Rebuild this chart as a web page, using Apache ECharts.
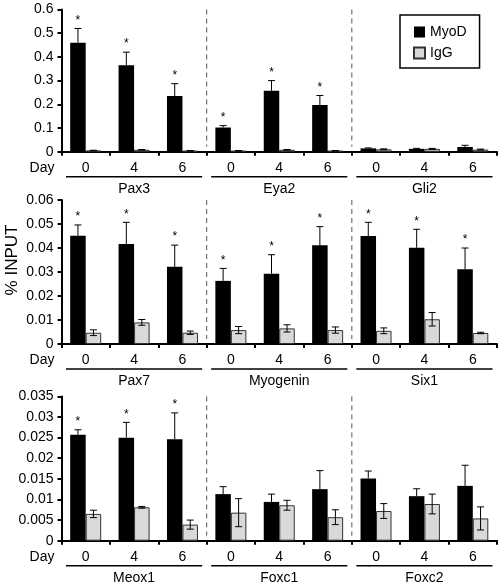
<!DOCTYPE html>
<html>
<head>
<meta charset="utf-8">
<script src="https://cdn.jsdelivr.net/npm/echarts@6/dist/echarts.min.js"></script>
<style>
html,body{margin:0;padding:0;background:#fff;}
#c{width:498px;height:586px;}
</style>
</head>
<body>
<div id="c"></div>
<script>
const days = ['0', '4', '6'];
const genesTop = ['Pax3', 'Eya2', 'Gli2'];
const genesMid = ['Pax7', 'Myogenin', 'Six1'];
const genesBot = ['Meox1', 'Foxc1', 'Foxc2'];

const myodTop = [0.46, 0.365, 0.235, 0.102, 0.257, 0.197, 0.014, 0.012, 0.02];
const myodTopErr = [0.06, 0.055, 0.052, 0.008, 0.043, 0.04, 0.002, 0.002, 0.007];
const iggTop = [0.005, 0.008, 0.004, 0.004, 0.008, 0.004, 0.01, 0.012, 0.009];
const iggTopErr = [0.001, 0.001, 0.001, 0.001, 0.001, 0.001, 0.002, 0.002, 0.002];
const sigTop = [1, 1, 1, 1, 1, 1, 0, 0, 0];

const myodMid = [0.0451, 0.0417, 0.0322, 0.0263, 0.0293, 0.0411, 0.045, 0.0401, 0.0311];
const myodMidErr = [0.0045, 0.009, 0.009, 0.0052, 0.0079, 0.0078, 0.0057, 0.0077, 0.0089];
const iggMid = [0.0047, 0.009, 0.0047, 0.0058, 0.0065, 0.0058, 0.0055, 0.0103, 0.0046];
const iggMidErr = [0.0012, 0.0012, 0.0007, 0.0015, 0.0015, 0.0013, 0.0012, 0.0028, 0.0003];
const sigMid = [1, 1, 1, 1, 1, 1, 1, 1, 1];

const myodBot = [0.0257, 0.025, 0.0246, 0.0113, 0.0094, 0.0125, 0.0151, 0.0108, 0.0133];
const myodBotErr = [0.0012, 0.0037, 0.0064, 0.0018, 0.0019, 0.0045, 0.0018, 0.0018, 0.005];
const iggBot = [0.0065, 0.0081, 0.0039, 0.0068, 0.0086, 0.0057, 0.0072, 0.0089, 0.0054];
const iggBotErr = [0.0009, 0.0002, 0.0011, 0.0034, 0.0012, 0.0018, 0.0018, 0.0024, 0.0028];
const sigBot = [1, 1, 1, 0, 0, 0, 0, 0, 0];

const yMax = [0.6, 0.06, 0.035];
const yInterval = [0.1, 0.01, 0.005];

const FONT = '"Liberation Sans", Arial, Helvetica, sans-serif';
const BAR_W = 15.5;

const panels = [
  {genes: genesTop, myod: myodTop, myodErr: myodTopErr, igg: iggTop, iggErr: iggTopErr, sig: sigTop},
  {genes: genesMid, myod: myodMid, myodErr: myodMidErr, igg: iggMid, iggErr: iggMidErr, sig: sigMid},
  {genes: genesBot, myod: myodBot, myodErr: myodBotErr, igg: iggBot, iggErr: iggBotErr, sig: sigBot}
];

const grids = [
  {left: 61.5, width: 435.5, top: 9.5, height: 142.2},
  {left: 61.5, width: 435.5, top: 200, height: 144},
  {left: 61.5, width: 435.5, top: 396.4, height: 144.3}
];

function cats(genes) {
  const out = [];
  genes.forEach(g => days.forEach(d => out.push(g + '|' + d)));
  return out;
}

const xAxes = [], yAxes = [], series = [];
panels.forEach((p, k) => {
  xAxes.push({
    type: 'category', gridIndex: k, data: cats(p.genes),
    axisLine: {lineStyle: {color: '#000', width: 2}},
    axisTick: {show: true, length: 4, lineStyle: {color: '#000', width: 2}},
    axisLabel: {color: '#000', fontSize: 14, fontFamily: FONT, margin: 9,
      formatter: v => v.split('|')[1]}
  });
  yAxes.push({
    type: 'value', gridIndex: k, min: 0, max: yMax[k], interval: yInterval[k],
    splitLine: {show: false},
    axisLine: {show: true, lineStyle: {color: '#000', width: 2}},
    axisTick: {show: true, length: 4, lineStyle: {color: '#000', width: 2}},
    axisLabel: {color: '#000', fontSize: 14, fontFamily: FONT, margin: 8}
  });
  series.push({
    name: 'MyoD', type: 'bar', xAxisIndex: k, yAxisIndex: k,
    barWidth: BAR_W, barGap: '0%', data: p.myod,
    itemStyle: {color: '#000', borderColor: '#000', borderWidth: 0}
  });
  series.push({
    name: 'IgG', type: 'bar', xAxisIndex: k, yAxisIndex: k,
    barWidth: BAR_W, barGap: '0%', data: p.igg,
    itemStyle: {color: '#d9d9d9', borderColor: '#333', borderWidth: 1}
  });
  // error bars
  const errData = [];
  p.myod.forEach((v, i) => errData.push([i, v, p.myodErr[i], 0]));
  p.igg.forEach((v, i) => errData.push([i, v, p.iggErr[i], 1]));
  series.push({
    type: 'custom', xAxisIndex: k, yAxisIndex: k, data: errData, z: 5,
    renderItem: (params, api) => {
      const i = api.value(0), v = api.value(1), e = api.value(2), s = api.value(3);
      const off = s === 0 ? -BAR_W / 2 : BAR_W / 2;
      const x = api.coord([i, v])[0] + off;
      const yTop = api.coord([i, v + e])[1];
      const yBot = s === 0 ? api.coord([i, v])[1] : api.coord([i, v - e])[1];
      const cap = 3.5;
      const st = {stroke: '#000', lineWidth: 1};
      const children = [
        {type: 'line', shape: {x1: x, y1: yTop, x2: x, y2: yBot}, style: st},
        {type: 'line', shape: {x1: x - cap, y1: yTop, x2: x + cap, y2: yTop}, style: st}
      ];
      if (s === 1) children.push({type: 'line', shape: {x1: x - cap, y1: yBot, x2: x + cap, y2: yBot}, style: st});
      return {type: 'group', children};
    }
  });
  // significance stars
  const starData = [];
  p.myod.forEach((v, i) => { if (p.sig[i]) starData.push([i, v + p.myodErr[i]]); });
  series.push({
    type: 'custom', xAxisIndex: k, yAxisIndex: k, data: starData, z: 5,
    renderItem: (params, api) => {
      const pt = api.coord([api.value(0), api.value(1)]);
      return {type: 'text', x: pt[0] - BAR_W / 2, y: pt[1] - 8,
        style: {text: '*', fontSize: 12, fontFamily: FONT, fill: '#000', align: 'center', verticalAlign: 'middle'}};
    }
  });
  // gene underlines + names
  series.push({
    type: 'custom', xAxisIndex: k, yAxisIndex: k, z: 5,
    data: p.genes.map((g, gi) => [gi * 3 + 1, 0, gi]),
    renderItem: (params, api) => {
      const c = api.coord([api.value(0), 0]);
      const band = api.size([1, 0])[0];
      const half = band * 1.5 - 4;
      const g = p.genes[api.value(2)];
      return {type: 'group', children: [
        {type: 'line', shape: {x1: c[0] - half + 0.5, y1: c[1] + 25, x2: c[0] + half - 0.5, y2: c[1] + 25},
          style: {stroke: '#000', lineWidth: 1.5}},
        {type: 'text', x: c[0], y: c[1] + 37,
          style: {text: g, fontSize: 14, fontFamily: FONT, fill: '#000', align: 'center', verticalAlign: 'middle'}}
      ]};
    }
  });
  // dashed separators
  series.push({
    type: 'custom', xAxisIndex: k, yAxisIndex: k, z: 1,
    data: [[2, 0], [5, 0]],
    renderItem: (params, api) => {
      const i = api.value(0);
      const band = api.size([1, 0])[0];
      const x = api.coord([i, 0])[0] + band / 2;
      const yT = api.coord([i, yMax[k]])[1];
      const yB = api.coord([i, 0])[1];
      return {type: 'line', shape: {x1: x, y1: yT, x2: x, y2: yB - 5},
        style: {stroke: '#555', lineWidth: 1, lineDash: [5, 4]}};
    }
  });
});

const graphics = [];
grids.forEach(g => {
  graphics.push({type: 'text', x: 42, y: g.top + g.height + 16,
    style: {text: 'Day', fontSize: 14, fontFamily: FONT, fill: '#000', align: 'center', verticalAlign: 'middle'}});
});
graphics.push({type: 'text', x: 12, y: 260, rotation: Math.PI / 2,
  style: {text: '% INPUT', fontSize: 17, fontFamily: FONT, fill: '#000', align: 'center', verticalAlign: 'middle'}});

const chart = echarts.init(document.getElementById('c'), null, {renderer: 'canvas'});
chart.setOption({
  animation: false,
  backgroundColor: '#fff',
  grid: grids,
  xAxis: xAxes,
  yAxis: yAxes,
  legend: {
    data: ['MyoD', 'IgG'], orient: 'vertical', left: 400, top: 15,
    padding: [10, 13, 8, 13], itemGap: 7, itemWidth: 11, itemHeight: 11, itemTextGap: 5,
    borderColor: '#000', borderWidth: 1.5, backgroundColor: '#fff',
    icon: 'rect',
    textStyle: {color: '#000', fontSize: 14, fontFamily: FONT}
  },
  graphic: graphics,
  series: series
});
</script>
</body>
</html>
